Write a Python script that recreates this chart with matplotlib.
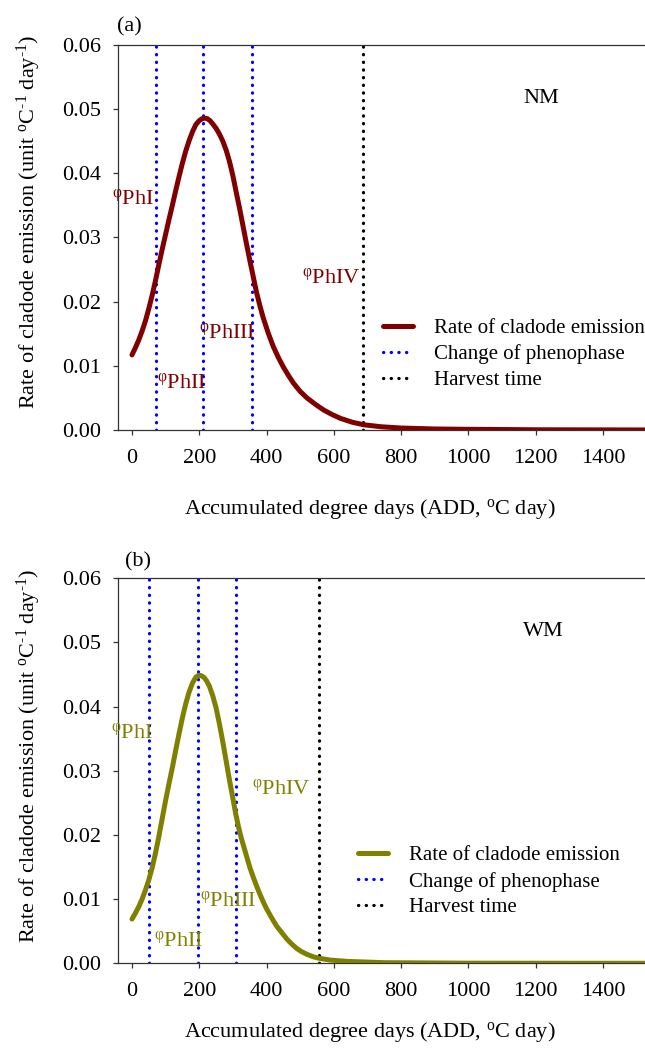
import matplotlib
matplotlib.use("Agg")
import matplotlib.pyplot as plt

plt.rcParams['font.family'] = ['Liberation Serif', 'DejaVu Serif']
plt.rcParams['mathtext.fontset'] = 'custom'
plt.rcParams['mathtext.rm'] = 'Liberation Serif'
plt.rcParams['mathtext.it'] = 'Liberation Serif:italic'

# panel (a) NM curve
add_nm = [0, 10, 20, 30, 40, 50, 60, 70, 80, 90, 100, 110, 120, 130, 140, 150, 160,
          170, 180, 190, 200, 208, 216, 224, 232, 240, 250, 260, 270, 280, 290, 300,
          310, 320, 330, 340, 350, 360, 370, 380, 390, 405, 420, 435, 450, 465, 480,
          500, 520, 545, 570, 595, 620, 655, 690, 740, 800, 900, 1000, 1200, 1530]
rate_nm = [0.0117, 0.0128, 0.0140, 0.0154, 0.0170, 0.0189, 0.0210, 0.0233, 0.0258,
           0.0282, 0.0305, 0.0328, 0.0350, 0.0373, 0.0395, 0.0416, 0.0435, 0.0451,
           0.0465, 0.0476, 0.0482, 0.0485, 0.0486, 0.0485, 0.0482, 0.0477, 0.0470,
           0.0461, 0.0450, 0.0436, 0.0418, 0.0396, 0.0370, 0.0345, 0.0318, 0.0291,
           0.0265, 0.0240, 0.0215, 0.0194, 0.0175, 0.0151, 0.0130, 0.0113, 0.0098,
           0.0085, 0.0073, 0.0060, 0.0050, 0.0040, 0.0031, 0.0024, 0.0018, 0.0012,
           0.0008, 0.0005, 0.0003, 0.00015, 0.0001, 0.00003, 0.0]
phase_nm = [71, 212, 358]
harvest_nm = 688

# panel (b) WM curve
add_wm = [0, 10, 20, 30, 40, 50, 60, 70, 80, 90, 100, 110, 120, 130, 140, 150, 160,
          170, 180, 190, 199, 207, 215, 222, 230, 240, 250, 260, 270, 280, 290, 300,
          308, 316, 325, 340, 350, 360, 370, 380, 390, 400, 415, 430, 445, 460, 475,
          490, 505, 520, 540, 555, 590, 640, 750, 1000, 1530]
rate_wm = [0.0069, 0.0078, 0.0088, 0.0100, 0.0114, 0.0130, 0.0149, 0.0172, 0.0198,
           0.0226, 0.0254, 0.0280, 0.0305, 0.0332, 0.0358, 0.0383, 0.0405, 0.0423,
           0.0437, 0.0446, 0.0449, 0.0448, 0.0445, 0.0440, 0.0432, 0.0417, 0.0398,
           0.0373, 0.0345, 0.0315, 0.0285, 0.0257, 0.0234, 0.0214, 0.0195, 0.0168,
           0.0150, 0.0135, 0.0121, 0.0108, 0.0096, 0.0085, 0.0071, 0.0058, 0.0048,
           0.0038, 0.0030, 0.0023, 0.0018, 0.0014, 0.0010, 0.0008, 0.0005, 0.0003,
           0.0001, 0.00002, 0.0]
phase_wm = [51.5, 196, 309]
harvest_wm = 555

phase_names = ['PhI', 'PhII', 'PhIII', 'PhIV']
# label anchors (x, baseline y) for each panel
lab_nm = [(-58, 0.0352), (75, 0.0065), (200, 0.0143), (506, 0.0229)]
lab_wm = [(-61, 0.0351), (66, 0.0027), (203, 0.0090), (358, 0.0264)]

xticks = [0, 200, 400, 600, 800, 1000, 1200, 1400]
yticks = [0.00, 0.01, 0.02, 0.03, 0.04, 0.05, 0.06]

fig = plt.figure(figsize=(6.45, 10.52), dpi=100)
ax_a = fig.add_axes([0.1822, 0.5913, 0.8178, 0.366])
ax_b = fig.add_axes([0.1822, 0.0843, 0.8178, 0.366])

dot = (0, (0.1, 2.3))


def draw(ax, x, y, col, phases, harvest, labs, tag, leg_anchor, xlab_y):
    ax.plot(x, y, color=col, lw=3.6, solid_capstyle='round',
            solid_joinstyle='round', label='Rate of cladode emission', zorder=3)
    for i, p in enumerate(phases):
        ax.axvline(p, color='#0000ff', lw=2.3, ls=dot, dash_capstyle='round',
                   label='Change of phenophase' if i == 0 else None, zorder=2)
    ax.axvline(harvest, color='black', lw=2.3, ls=dot, dash_capstyle='round',
               label='Harvest time', zorder=2)
    for name, (lx, ly) in zip(phase_names, labs):
        ax.text(lx, ly, r'$^{\mathrm{φ}}$' + name, color=col, fontsize=16,
                ha='left', va='baseline', clip_on=False, zorder=4)
    ax.text(1163, 0.0517, tag, fontsize=16, ha='left', va='center')

    ax.set_xlim(-43, 1525)
    ax.set_ylim(0, 0.06)
    ax.set_xticks(xticks)
    ax.set_yticks(yticks)
    ax.set_yticklabels(['%.2f' % v for v in yticks])
    ax.tick_params(direction='out', length=3.8, width=0.9, labelsize=16,
                   colors='#333333', labelcolor='black')
    ax.tick_params(axis='y', pad=8)
    ax.tick_params(axis='x', pad=10)
    ax.spines['right'].set_visible(False)
    for s in ['left', 'top', 'bottom']:
        ax.spines[s].set_linewidth(0.9)
        ax.spines[s].set_color('#333333')

    ax.set_ylabel(r'Rate of cladode emission (unit $^{\mathrm{o}}$C$^{\text{-1}}$ day$^{\text{-1}}$)',
                  fontsize=16)
    ax.yaxis.set_label_coords(-0.141, 0.54)
    ax.set_xlabel(r'Accumulated degree days (ADD, $^{\mathrm{o}}$C day)', fontsize=16)
    ax.xaxis.set_label_coords(0.479, xlab_y)

    ax.legend(loc='upper left', bbox_to_anchor=leg_anchor, frameon=False,
              fontsize=15, handlelength=1.45, handletextpad=1.0,
              labelspacing=0.3, borderpad=0, borderaxespad=0)


draw(ax_a, add_nm, rate_nm, '#800000', phase_nm, harvest_nm, lab_nm, 'NM',
     (0.503, 0.289), -0.174)
draw(ax_b, add_wm, rate_wm, '#808000', phase_wm, harvest_wm, lab_wm, 'WM',
     (0.456, 0.305), -0.148)

fig.text(0.181, 0.9745, '(a)', fontsize=16, ha='left', va='center')
fig.text(0.194, 0.4655, '(b)', fontsize=16, ha='left', va='center')

fig.savefig('out.png', dpi=100)
